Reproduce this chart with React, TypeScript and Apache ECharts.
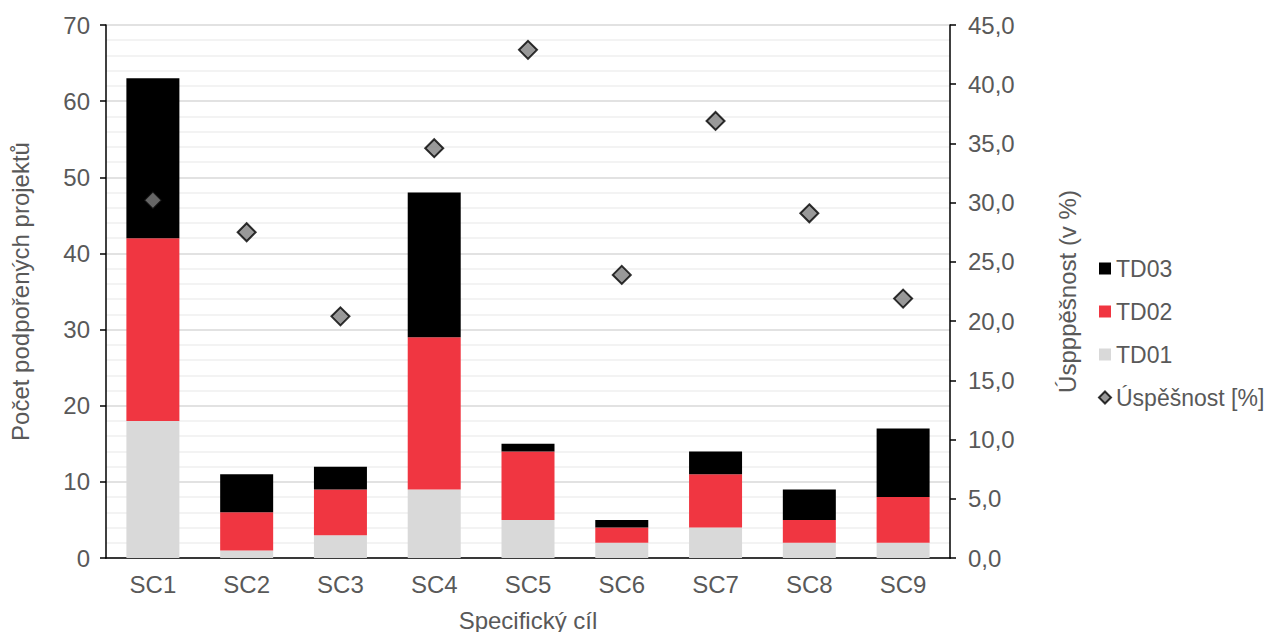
import React, { useEffect, useRef } from "react";
import * as echarts from "echarts";

const categories = ["SC1", "SC2", "SC3", "SC4", "SC5", "SC6", "SC7", "SC8", "SC9"];
const td01 = [18, 1, 3, 9, 5, 2, 4, 2, 2];
const td02 = [24, 5, 6, 20, 9, 2, 7, 3, 6];
const td03 = [21, 5, 3, 19, 1, 1, 3, 4, 9];
const uspesnost = [30.2, 27.5, 20.4, 34.6, 42.9, 23.9, 36.9, 29.1, 21.9];

const FONT = "Liberation Sans, Arial, sans-serif";
const TXT = "#595959";
const FS = 24;

export default function App() {
  const ref = useRef<HTMLDivElement>(null);
  useEffect(() => {
    if (!ref.current) return;
    const chart = echarts.init(ref.current, undefined, { renderer: "svg" });
    chart.setOption({
      animation: false,
      textStyle: { fontFamily: FONT },
      grid: { left: 106, right: 321, top: 25, bottom: 74, containLabel: false, outerBoundsMode: "none" },
      legend: {
        orient: "vertical",
        left: 1093,
        top: 252,
        itemGap: 20,
        itemWidth: 12,
        itemHeight: 12,
        textStyle: { color: TXT, fontSize: 23, fontFamily: FONT },
        data: [
          { name: "TD03", icon: "rect" },
          { name: "TD02", icon: "rect" },
          { name: "TD01", icon: "rect" },
          { name: "Úspěšnost [%]", icon: "diamond" },
        ],
      },
      xAxis: {
        type: "category",
        data: categories,
        axisLine: { lineStyle: { color: "#000", width: 1.5 } },
        axisTick: { show: false },
        axisLabel: { color: TXT, fontSize: FS, margin: 14, fontFamily: FONT },
        name: "Specifický cíl",
        nameLocation: "middle",
        nameGap: 50,
        nameTextStyle: { color: TXT, fontSize: FS, fontFamily: FONT },
      },
      yAxis: [
        {
          type: "value",
          min: 0,
          max: 70,
          interval: 10,
          axisLine: { show: true, lineStyle: { color: "#000", width: 1.5 } },
          axisTick: { show: true, inside: false, length: 6, lineStyle: { color: "#000", width: 1.5 } },
          axisLabel: { color: TXT, fontSize: FS, margin: 16, fontFamily: FONT },
          splitLine: { show: true, lineStyle: { color: "#d9d9d9", width: 1.5 } },
          minorTick: { show: false, splitNumber: 5 },
          minorSplitLine: { show: true, lineStyle: { color: "#efefef", width: 1.5 } },
          name: "Počet podpořených projektů",
          nameLocation: "middle",
          nameGap: 74,
          nameTextStyle: { color: TXT, fontSize: FS, fontFamily: FONT },
        },
        {
          type: "value",
          min: 0,
          max: 45,
          interval: 5,
          position: "right",
          axisLine: { show: true, lineStyle: { color: "#000", width: 1.5 } },
          axisTick: { show: true, inside: false, length: 6, lineStyle: { color: "#000", width: 1.5 } },
          axisLabel: {
            color: TXT,
            fontSize: FS,
            margin: 18,
            fontFamily: FONT,
            formatter: (v: number) => v.toFixed(1).replace(".", ","),
          },
          splitLine: { show: false },
          name: "Úspppěšnost (v %)",
          nameLocation: "middle",
          nameGap: 105,
          nameRotate: 90,
          nameTextStyle: { color: TXT, fontSize: FS, fontFamily: FONT },
        },
      ],
      series: [
        {
          name: "TD01",
          type: "bar",
          stack: "td",
          data: td01,
          barWidth: 53,
          itemStyle: { color: "#d9d9d9" },
        },
        {
          name: "TD02",
          type: "bar",
          stack: "td",
          data: td02,
          barWidth: 53,
          itemStyle: { color: "#f03641" },
        },
        {
          name: "TD03",
          type: "bar",
          stack: "td",
          data: td03,
          barWidth: 53,
          itemStyle: { color: "#000000" },
        },
        {
          name: "Úspěšnost [%]",
          type: "scatter",
          yAxisIndex: 1,
          data: uspesnost,
          symbol: "diamond",
          symbolSize: 18,
          z: 5,
          itemStyle: { color: "#808080", borderColor: "#000", borderWidth: 2 },
        },
      ],
    });
    return () => chart.dispose();
  }, []);
  return (
    <div
      ref={ref}
      style={{ position: "absolute", left: 0, top: 0, width: 1271, height: 632, background: "#fff" }}
    />
  );
}
